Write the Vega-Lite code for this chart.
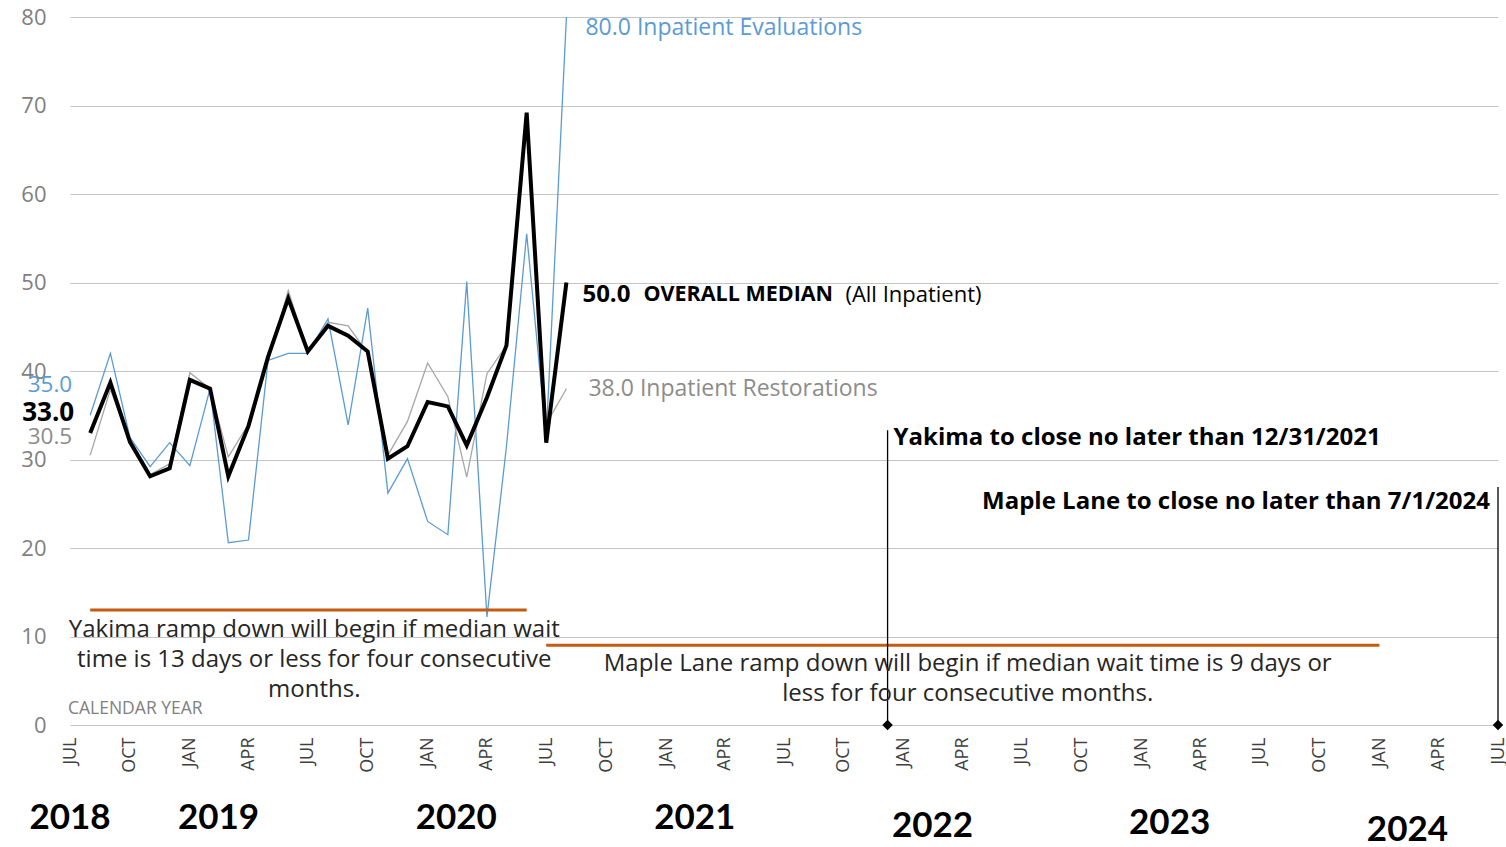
{
  "$schema": "https://vega.github.io/schema/vega-lite/v6.json",
  "width": 1428,
  "height": 708,
  "autosize": {"type": "none"},
  "padding": {"left": 70, "top": 17, "right": 8, "bottom": 122},
  "background": "white",
  "config": {
    "view": {"stroke": null},
    "font": "Open Sans",
    "axisX": {"domain": false, "ticks": false, "grid": false, "labelAngle": -90, "labelFont": "Open Sans", "labelFontSize": 18, "labelColor": "#404040", "labelPadding": 12, "labelOverlap": false, "labelFlush": false, "labelBound": false},
    "axisY": {"domain": false, "ticks": false, "gridColor": "#c4c4c4", "labelFont": "Open Sans", "labelFontSize": 22, "labelColor": "#7f7f7f", "labelPadding": 24}
  },
  "datasets": {
    "series": [
      {"date": "2018-08-01T00:00", "series": "Overall", "value": 33.0},
      {"date": "2018-09-01T00:00", "series": "Overall", "value": 38.7},
      {"date": "2018-10-01T00:00", "series": "Overall", "value": 32.0},
      {"date": "2018-11-01T00:00", "series": "Overall", "value": 28.1},
      {"date": "2018-12-01T00:00", "series": "Overall", "value": 29.0},
      {"date": "2019-01-01T00:00", "series": "Overall", "value": 39.0},
      {"date": "2019-02-01T00:00", "series": "Overall", "value": 38.0},
      {"date": "2019-03-01T00:00", "series": "Overall", "value": 28.1},
      {"date": "2019-04-01T00:00", "series": "Overall", "value": 33.8},
      {"date": "2019-05-01T00:00", "series": "Overall", "value": 41.6},
      {"date": "2019-06-01T00:00", "series": "Overall", "value": 48.2},
      {"date": "2019-07-01T00:00", "series": "Overall", "value": 42.2},
      {"date": "2019-08-01T00:00", "series": "Overall", "value": 45.1},
      {"date": "2019-09-01T00:00", "series": "Overall", "value": 44.0},
      {"date": "2019-10-01T00:00", "series": "Overall", "value": 42.2},
      {"date": "2019-11-01T00:00", "series": "Overall", "value": 30.1},
      {"date": "2019-12-01T00:00", "series": "Overall", "value": 31.5},
      {"date": "2020-01-01T00:00", "series": "Overall", "value": 36.5},
      {"date": "2020-02-01T00:00", "series": "Overall", "value": 36.0},
      {"date": "2020-03-01T00:00", "series": "Overall", "value": 31.6},
      {"date": "2020-04-01T00:00", "series": "Overall", "value": 37.0},
      {"date": "2020-05-01T00:00", "series": "Overall", "value": 42.9},
      {"date": "2020-06-01T00:00", "series": "Overall", "value": 69.2},
      {"date": "2020-07-01T00:00", "series": "Overall", "value": 31.9},
      {"date": "2020-08-01T00:00", "series": "Overall", "value": 50.0},
      {"date": "2018-08-01T00:00", "series": "Evaluations", "value": 35.0},
      {"date": "2018-09-01T00:00", "series": "Evaluations", "value": 42.0},
      {"date": "2018-10-01T00:00", "series": "Evaluations", "value": 32.5},
      {"date": "2018-11-01T00:00", "series": "Evaluations", "value": 29.2},
      {"date": "2018-12-01T00:00", "series": "Evaluations", "value": 31.9},
      {"date": "2019-01-01T00:00", "series": "Evaluations", "value": 29.3},
      {"date": "2019-02-01T00:00", "series": "Evaluations", "value": 38.0},
      {"date": "2019-03-01T00:00", "series": "Evaluations", "value": 20.6},
      {"date": "2019-04-01T00:00", "series": "Evaluations", "value": 20.9},
      {"date": "2019-05-01T00:00", "series": "Evaluations", "value": 41.2},
      {"date": "2019-06-01T00:00", "series": "Evaluations", "value": 42.0},
      {"date": "2019-07-01T00:00", "series": "Evaluations", "value": 42.0},
      {"date": "2019-08-01T00:00", "series": "Evaluations", "value": 45.9},
      {"date": "2019-09-01T00:00", "series": "Evaluations", "value": 33.9},
      {"date": "2019-10-01T00:00", "series": "Evaluations", "value": 47.1},
      {"date": "2019-11-01T00:00", "series": "Evaluations", "value": 26.2},
      {"date": "2019-12-01T00:00", "series": "Evaluations", "value": 30.1},
      {"date": "2020-01-01T00:00", "series": "Evaluations", "value": 23.0},
      {"date": "2020-02-01T00:00", "series": "Evaluations", "value": 21.5},
      {"date": "2020-03-01T00:00", "series": "Evaluations", "value": 50.1},
      {"date": "2020-04-01T00:00", "series": "Evaluations", "value": 12.2},
      {"date": "2020-05-01T00:00", "series": "Evaluations", "value": 31.5},
      {"date": "2020-06-01T00:00", "series": "Evaluations", "value": 55.5},
      {"date": "2020-07-01T00:00", "series": "Evaluations", "value": 32.5},
      {"date": "2020-08-01T00:00", "series": "Evaluations", "value": 80.0},
      {"date": "2018-08-01T00:00", "series": "Restorations", "value": 30.5},
      {"date": "2018-09-01T00:00", "series": "Restorations", "value": 37.9},
      {"date": "2018-10-01T00:00", "series": "Restorations", "value": 32.0},
      {"date": "2018-11-01T00:00", "series": "Restorations", "value": 28.3},
      {"date": "2018-12-01T00:00", "series": "Restorations", "value": 29.5},
      {"date": "2019-01-01T00:00", "series": "Restorations", "value": 39.8},
      {"date": "2019-02-01T00:00", "series": "Restorations", "value": 38.0},
      {"date": "2019-03-01T00:00", "series": "Restorations", "value": 30.3},
      {"date": "2019-04-01T00:00", "series": "Restorations", "value": 34.0},
      {"date": "2019-05-01T00:00", "series": "Restorations", "value": 41.0},
      {"date": "2019-06-01T00:00", "series": "Restorations", "value": 49.1},
      {"date": "2019-07-01T00:00", "series": "Restorations", "value": 42.2},
      {"date": "2019-08-01T00:00", "series": "Restorations", "value": 45.5},
      {"date": "2019-09-01T00:00", "series": "Restorations", "value": 45.1},
      {"date": "2019-10-01T00:00", "series": "Restorations", "value": 42.0},
      {"date": "2019-11-01T00:00", "series": "Restorations", "value": 30.5},
      {"date": "2019-12-01T00:00", "series": "Restorations", "value": 34.3},
      {"date": "2020-01-01T00:00", "series": "Restorations", "value": 40.9},
      {"date": "2020-02-01T00:00", "series": "Restorations", "value": 37.1},
      {"date": "2020-03-01T00:00", "series": "Restorations", "value": 28.0},
      {"date": "2020-04-01T00:00", "series": "Restorations", "value": 39.7},
      {"date": "2020-05-01T00:00", "series": "Restorations", "value": 42.9},
      {"date": "2020-06-01T00:00", "series": "Restorations", "value": 69.0},
      {"date": "2020-07-01T00:00", "series": "Restorations", "value": 34.0},
      {"date": "2020-08-01T00:00", "series": "Restorations", "value": 38.0}
    ],
    "thresholds": [
      {"start": "2018-08-01T00:00", "end": "2020-06-01T00:00", "level": 13},
      {"start": "2020-07-01T00:00", "end": "2024-01-01T00:00", "level": 9}
    ],
    "closures": [
      {"date": "2021-12-07T00:00", "top": 33.3, "base": 0},
      {"date": "2024-07-01T00:00", "top": 26.9, "base": 0}
    ],
    "years": [
      {"date": "2018-07-01T00:00", "pos": -10.5, "year": "2018"},
      {"date": "2019-02-14T00:00", "pos": -10.5, "year": "2019"},
      {"date": "2020-02-14T00:00", "pos": -10.5, "year": "2020"},
      {"date": "2021-02-14T00:00", "pos": -10.5, "year": "2021"},
      {"date": "2022-02-14T00:00", "pos": -11.4, "year": "2022"},
      {"date": "2023-02-13T00:00", "pos": -11.1, "year": "2023"},
      {"date": "2024-02-13T00:00", "pos": -11.9, "year": "2024"}
    ]
  },
  "layer": [
    {
      "data": {"name": "series"},
      "transform": [{"filter": "datum.series === 'Evaluations'"}],
      "mark": {"type": "line", "color": "#5b9bd5", "strokeWidth": 1.3},
      "encoding": {
        "x": {"field": "date", "type": "temporal", "title": null,
              "scale": {"domain": [{"year": 2018, "month": 7, "date": 1}, {"year": 2024, "month": 7, "date": 1}]},
              "axis": {"tickCount": {"interval": "month", "step": 3}, "labelExpr": "upper(timeFormat(datum.value, '%b'))"}},
        "y": {"field": "value", "type": "quantitative", "title": null,
              "scale": {"domain": [0, 80], "nice": false},
              "axis": {"values": [0, 10, 20, 30, 40, 50, 60, 70, 80]}}
      }
    },
    {
      "data": {"name": "series"},
      "transform": [{"filter": "datum.series === 'Restorations'"}],
      "mark": {"type": "line", "color": "#a6a6a6", "strokeWidth": 1.3},
      "encoding": {
        "x": {"field": "date", "type": "temporal", "title": null},
        "y": {"field": "value", "type": "quantitative", "title": null}
      }
    },
    {
      "data": {"name": "series"},
      "transform": [{"filter": "datum.series === 'Overall'"}],
      "mark": {"type": "line", "color": "#000000", "strokeWidth": 4},
      "encoding": {
        "x": {"field": "date", "type": "temporal", "title": null},
        "y": {"field": "value", "type": "quantitative", "title": null}
      }
    },
    {
      "data": {"name": "thresholds"},
      "mark": {"type": "rule", "color": "#c55a11", "strokeWidth": 3},
      "encoding": {
        "x": {"field": "start", "type": "temporal", "title": null},
        "x2": {"field": "end"},
        "y": {"field": "level", "type": "quantitative", "title": null}
      }
    },
    {
      "data": {"name": "closures"},
      "mark": {"type": "rule", "color": "#000000", "strokeWidth": 1.3},
      "encoding": {
        "x": {"field": "date", "type": "temporal", "title": null},
        "y": {"field": "base", "type": "quantitative", "title": null},
        "y2": {"field": "top"}
      }
    },
    {
      "data": {"name": "closures"},
      "mark": {"type": "point", "shape": "diamond", "filled": true, "color": "#000000", "size": 110, "opacity": 1},
      "encoding": {
        "x": {"field": "date", "type": "temporal", "title": null},
        "y": {"field": "base", "type": "quantitative", "title": null}
      }
    },
    {
      "data": {"name": "years"},
      "mark": {"type": "text", "font": "Lato", "fontWeight": "bold", "fontSize": 35, "color": "#000000", "align": "center", "baseline": "middle"},
      "encoding": {
        "x": {"field": "date", "type": "temporal", "title": null},
        "y": {"field": "pos", "type": "quantitative", "title": null},
        "text": {"field": "year"}
      }
    },
    {
      "data": {"values": [{"date": "2018-07-01T00:00", "pos": 1.8, "label": "CALENDAR YEAR"}]},
      "mark": {"type": "text", "fontSize": 17.5, "color": "#7f7f7f", "align": "left", "baseline": "middle", "dx": -2},
      "encoding": {
        "x": {"field": "date", "type": "temporal", "title": null},
        "y": {"field": "pos", "type": "quantitative", "title": null},
        "text": {"field": "label"}
      }
    },
    {
      "data": {"values": [
        {"date": "2019-07-11T00:00", "pos": 10.7, "label": "Yakima ramp down will begin if median wait"},
        {"date": "2019-07-11T00:00", "pos": 7.3, "label": "time is 13 days or less for four consecutive"},
        {"date": "2019-07-11T00:00", "pos": 3.95, "label": "months."},
        {"date": "2022-04-09T00:00", "pos": 6.9, "label": "Maple Lane ramp down will begin if median wait time is 9 days or"},
        {"date": "2022-04-09T00:00", "pos": 3.5, "label": "less for four consecutive months."}
      ]},
      "mark": {"type": "text", "fontSize": 24, "color": "#262626", "align": "center", "baseline": "middle"},
      "encoding": {
        "x": {"field": "date", "type": "temporal", "title": null},
        "y": {"field": "pos", "type": "quantitative", "title": null},
        "text": {"field": "label"}
      }
    },
    {
      "data": {"values": [{"date": "2021-12-07T00:00", "pos": 32.4, "label": "Yakima to close no later than 12/31/2021"}]},
      "mark": {"type": "text", "fontSize": 24, "fontWeight": "bold", "color": "#000000", "align": "left", "baseline": "middle", "dx": 6},
      "encoding": {
        "x": {"field": "date", "type": "temporal", "title": null},
        "y": {"field": "pos", "type": "quantitative", "title": null},
        "text": {"field": "label"}
      }
    },
    {
      "data": {"values": [{"date": "2024-07-01T00:00", "pos": 25.2, "label": "Maple Lane to close no later than 7/1/2024"}]},
      "mark": {"type": "text", "fontSize": 24, "fontWeight": "bold", "color": "#000000", "align": "right", "baseline": "middle", "dx": -8},
      "encoding": {
        "x": {"field": "date", "type": "temporal", "title": null},
        "y": {"field": "pos", "type": "quantitative", "title": null},
        "text": {"field": "label"}
      }
    },
    {
      "data": {"values": [{"date": "2020-08-01T00:00", "pos": 78.8, "label": "80.0  Inpatient Evaluations"}]},
      "mark": {"type": "text", "fontSize": 23, "color": "#5b9bd5", "align": "left", "baseline": "middle", "dx": 19},
      "encoding": {
        "x": {"field": "date", "type": "temporal", "title": null},
        "y": {"field": "pos", "type": "quantitative", "title": null},
        "text": {"field": "label"}
      }
    },
    {
      "data": {"values": [{"date": "2020-08-01T00:00", "pos": 38.0, "label": "38.0  Inpatient Restorations"}]},
      "mark": {"type": "text", "fontSize": 23, "color": "#8c8c8c", "align": "left", "baseline": "middle", "dx": 22},
      "encoding": {
        "x": {"field": "date", "type": "temporal", "title": null},
        "y": {"field": "pos", "type": "quantitative", "title": null},
        "text": {"field": "label"}
      }
    },
    {
      "data": {"values": [{"date": "2020-08-01T00:00", "pos": 48.6, "label": "50.0"}]},
      "mark": {"type": "text", "fontSize": 24, "fontWeight": "bold", "color": "#000000", "align": "left", "baseline": "middle", "dx": 16},
      "encoding": {
        "x": {"field": "date", "type": "temporal", "title": null},
        "y": {"field": "pos", "type": "quantitative", "title": null},
        "text": {"field": "label"}
      }
    },
    {
      "data": {"values": [{"date": "2020-08-01T00:00", "pos": 48.6, "label": "OVERALL MEDIAN"}]},
      "mark": {"type": "text", "fontSize": 21.5, "fontWeight": "bold", "color": "#000000", "align": "left", "baseline": "middle", "dx": 77},
      "encoding": {
        "x": {"field": "date", "type": "temporal", "title": null},
        "y": {"field": "pos", "type": "quantitative", "title": null},
        "text": {"field": "label"}
      }
    },
    {
      "data": {"values": [{"date": "2020-08-01T00:00", "pos": 48.6, "label": "(All Inpatient)"}]},
      "mark": {"type": "text", "fontSize": 22, "color": "#000000", "align": "left", "baseline": "middle", "dx": 279},
      "encoding": {
        "x": {"field": "date", "type": "temporal", "title": null},
        "y": {"field": "pos", "type": "quantitative", "title": null},
        "text": {"field": "label"}
      }
    },
    {
      "data": {"values": [
        {"date": "2018-08-01T00:00", "pos": 38.4, "label": "35.0", "series": "Evaluations"},
        {"date": "2018-08-01T00:00", "pos": 32.5, "label": "30.5", "series": "Restorations"}
      ]},
      "mark": {"type": "text", "fontSize": 22.5, "align": "right", "baseline": "middle", "dx": -18},
      "encoding": {
        "x": {"field": "date", "type": "temporal", "title": null},
        "y": {"field": "pos", "type": "quantitative", "title": null},
        "text": {"field": "label"},
        "color": {"field": "series", "type": "nominal", "legend": null,
                  "scale": {"domain": ["Evaluations", "Restorations"], "range": ["#5b9bd5", "#8c8c8c"]}}
      }
    },
    {
      "data": {"values": [{"date": "2018-08-01T00:00", "pos": 35.25, "label": "33.0"}]},
      "mark": {"type": "text", "fontSize": 26, "fontWeight": "bold", "color": "#000000", "align": "right", "baseline": "middle", "dx": -16},
      "encoding": {
        "x": {"field": "date", "type": "temporal", "title": null},
        "y": {"field": "pos", "type": "quantitative", "title": null},
        "text": {"field": "label"}
      }
    }
  ]
}
